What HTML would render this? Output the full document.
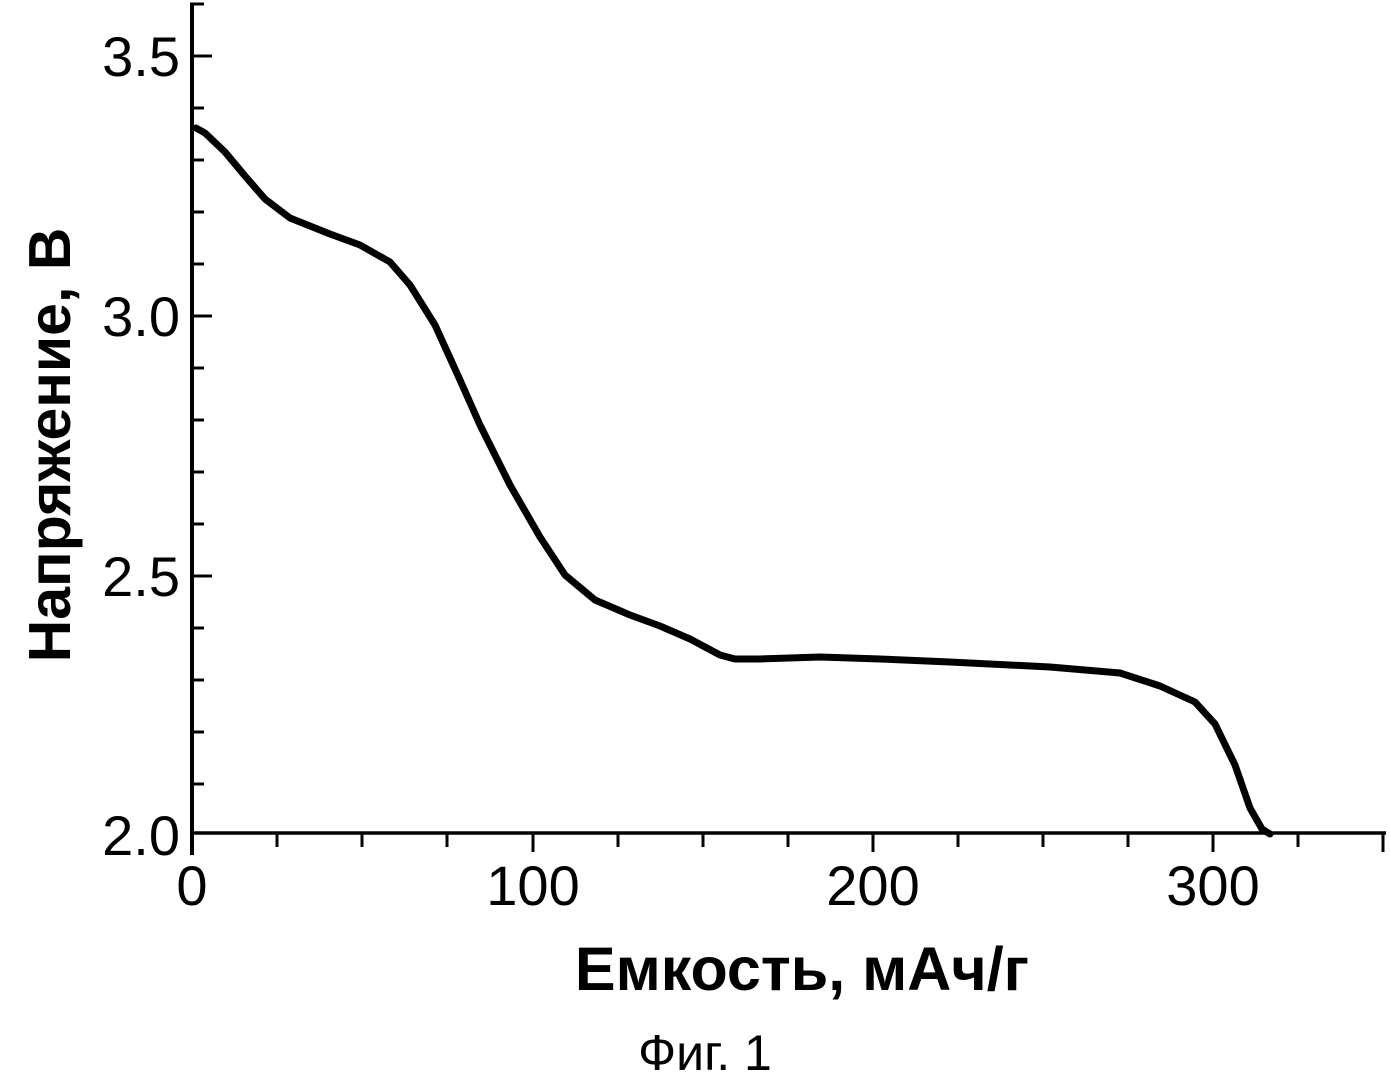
<!DOCTYPE html>
<html><head><meta charset="utf-8"><style>body{margin:0;background:#fff}svg{display:block}</style></head><body>
<svg width="1390" height="1077" xmlns="http://www.w3.org/2000/svg" font-family="Liberation Sans, sans-serif">
<g stroke="#000" fill="none">
<line x1="192" y1="4" x2="192" y2="855" stroke-width="4"/>
<line x1="190" y1="4" x2="204" y2="4" stroke-width="3"/>
<line x1="190" y1="833" x2="1386" y2="833" stroke-width="3.5"/>
<g stroke-width="3">
<line x1="192" y1="56" x2="212" y2="56"/><line x1="192" y1="108" x2="204" y2="108"/><line x1="192" y1="160" x2="204" y2="160"/><line x1="192" y1="212" x2="204" y2="212"/><line x1="192" y1="264" x2="204" y2="264"/>
<line x1="192" y1="316" x2="212" y2="316"/><line x1="192" y1="368" x2="204" y2="368"/><line x1="192" y1="420" x2="204" y2="420"/><line x1="192" y1="472" x2="204" y2="472"/><line x1="192" y1="524" x2="204" y2="524"/>
<line x1="192" y1="576" x2="212" y2="576"/><line x1="192" y1="628" x2="204" y2="628"/><line x1="192" y1="680" x2="204" y2="680"/><line x1="192" y1="732" x2="204" y2="732"/><line x1="192" y1="784" x2="204" y2="784"/>
<line x1="277" y1="833" x2="277" y2="847"/><line x1="362" y1="833" x2="362" y2="847"/><line x1="447" y1="833" x2="447" y2="847"/>
<line x1="533" y1="833" x2="533" y2="852"/><line x1="618" y1="833" x2="618" y2="847"/><line x1="703" y1="833" x2="703" y2="847"/><line x1="788" y1="833" x2="788" y2="847"/>
<line x1="873" y1="833" x2="873" y2="852"/><line x1="958" y1="833" x2="958" y2="847"/><line x1="1043" y1="833" x2="1043" y2="847"/><line x1="1128" y1="833" x2="1128" y2="847"/>
<line x1="1213" y1="833" x2="1213" y2="852"/><line x1="1298" y1="833" x2="1298" y2="847"/><line x1="1383" y1="833" x2="1383" y2="852"/>
</g>
<path stroke-width="7" stroke-linejoin="round" stroke-linecap="round" d="M196,128 L205,133 L225,152 L245,176 L265,199 L290,218 L330,234 L360,245 L390,262 L410,285 L435,325 L460,380 L480,425 L510,485 L540,537 L565,575 L595,600 L630,615 L660,626 L690,639 L720,655 L735,659 L760,659 L820,657 L880,659 L950,662 L1050,667 L1120,673 L1160,686 L1195,702 L1215,724 L1235,765 L1250,808 L1262,829 L1270,834"/>
</g>
<g font-size="56" text-anchor="end">
<text x="180" y="76">3.5</text><text x="180" y="336">3.0</text><text x="180" y="596">2.5</text><text x="180" y="855">2.0</text>
</g>
<g font-size="56" text-anchor="middle">
<text x="192" y="905">0</text><text x="533" y="905">100</text><text x="873" y="905">200</text><text x="1213" y="905">300</text>
</g>
<text x="802" y="990" font-size="61" font-weight="bold" text-anchor="middle">Емкость, мАч/г</text>
<text transform="translate(70,445) rotate(-90)" font-size="59" font-weight="bold" text-anchor="middle">Напряжение, В</text>
<text x="705" y="1070" font-size="50" text-anchor="middle">Фиг. 1</text>
</svg>
</body></html>
